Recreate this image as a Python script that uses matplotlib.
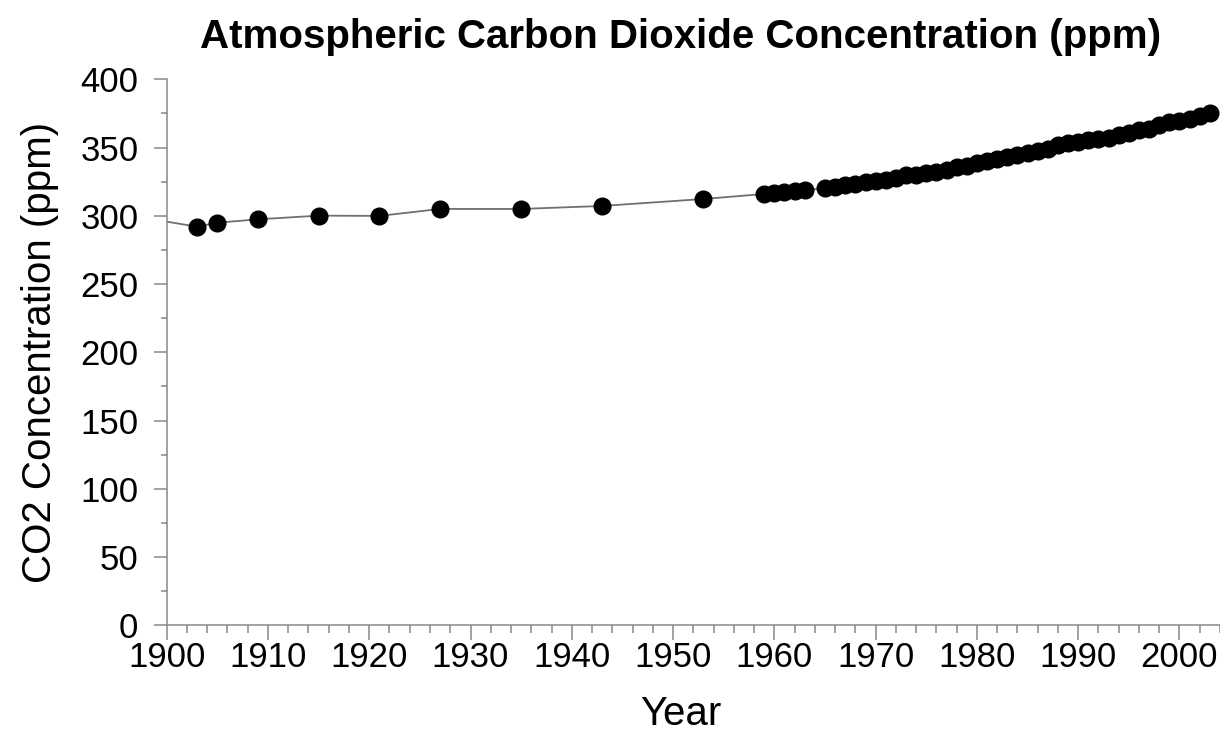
import matplotlib
matplotlib.use('Agg')
import matplotlib.pyplot as plt
from matplotlib.ticker import MultipleLocator

plt.rcParams['font.family'] = ['Liberation Sans', 'DejaVu Sans']

# ice core style points before Mauna Loa
early_years = [1903, 1905, 1909, 1915, 1921, 1927, 1935, 1943, 1953]
early_ppm = [292.0, 294.9, 297.4, 300.1, 299.9, 305.0, 305.0, 307.2, 312.3]

# annual means, 1959 onward (1964 missing)
ml_years = [1959, 1960, 1961, 1962, 1963, 1965, 1966, 1967, 1968, 1969,
            1970, 1971, 1972, 1973, 1974, 1975, 1976, 1977, 1978, 1979,
            1980, 1981, 1982, 1983, 1984, 1985, 1986, 1987, 1988, 1989,
            1990, 1991, 1992, 1993, 1994, 1995, 1996, 1997, 1998, 1999,
            2000, 2001, 2002, 2003]
ml_ppm = [315.98, 316.91, 317.64, 318.45, 318.99, 320.03, 321.37, 322.18, 323.05, 324.62,
          325.68, 326.32, 327.45, 329.68, 330.17, 331.08, 332.05, 333.78, 335.41, 336.78,
          338.68, 340.10, 341.44, 343.03, 344.58, 346.04, 347.39, 349.16, 351.56, 353.07,
          354.35, 355.57, 356.38, 357.07, 358.82, 360.80, 362.59, 363.71, 366.65, 368.33,
          369.52, 371.13, 373.22, 375.0]

line_start_year = 1900
line_start_ppm = 295.7

years = early_years + ml_years
ppm = early_ppm + ml_ppm

fig = plt.figure(figsize=(12.2, 7.36), dpi=100)
ax = fig.add_axes([0.1366, 0.1504, 0.8634, 0.7419])

ax.plot([line_start_year] + years, [line_start_ppm] + ppm, color='#707070', lw=1.3, zorder=2)
ax.plot(years, ppm, 'o', color='black', markersize=12, zorder=3)

ax.set_xlim(1900, 2004)
ax.set_ylim(0, 400)
ax.xaxis.set_major_locator(MultipleLocator(10))
ax.xaxis.set_minor_locator(MultipleLocator(2))
ax.yaxis.set_major_locator(MultipleLocator(50))
ax.yaxis.set_minor_locator(MultipleLocator(25))

for s in ['top', 'right']:
    ax.spines[s].set_visible(False)
for s in ['left', 'bottom']:
    ax.spines[s].set_color('#888888')
    ax.spines[s].set_linewidth(1.1)

ax.tick_params(axis='x', which='major', length=10.5, width=1.1, color='#888888',
               labelsize=25, pad=1)
ax.tick_params(axis='x', which='minor', length=5.8, width=1.1, color='#888888')
ax.tick_params(axis='y', which='major', length=9.4, width=1.1, color='#888888',
               labelsize=25, pad=11)
ax.tick_params(axis='y', which='minor', length=4.3, width=1.1, color='#888888')

ax.set_xlabel('Year', fontsize=29)
ax.xaxis.set_label_coords(0.488, -0.128)
ax.set_ylabel('CO2 Concentration (ppm)', fontsize=29, labelpad=15)
fig.suptitle('Atmospheric Carbon Dioxide Concentration (ppm)', fontsize=29,
             fontweight='bold', x=0.558, y=0.975)

fig.savefig('out.png', dpi=100)
